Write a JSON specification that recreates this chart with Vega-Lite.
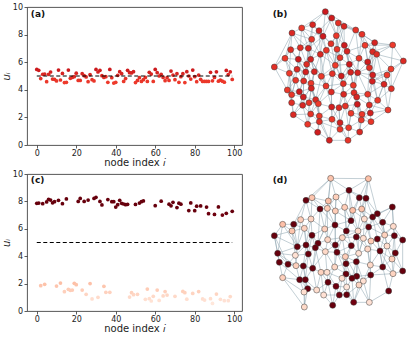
{
"$schema":"https://vega.github.io/schema/vega-lite/v6.json",
"padding":{"left":0,"top":2,"right":0,"bottom":0},
"background":"white",
"config":{"font":"DejaVu Sans","view":{"stroke":"#444","strokeWidth":0.9},
"axis":{"domain":false,"grid":false,"tickColor":"#333","tickSize":3,"tickWidth":0.8,"labelFont":"DejaVu Sans","labelFontSize":8,"labelColor":"#222","titleFont":"DejaVu Sans","titleFontSize":10,"titleFontWeight":"normal","titleColor":"#222","labelPadding":1.5,"labelOverlap":false}},
"datasets":{
"ua":[{"i":0,"u":5.48},{"i":1,"u":5.41},{"i":2,"u":4.81},{"i":3,"u":5.12},{"i":4,"u":5.14},{"i":5,"u":4.59},{"i":6,"u":5.12},{"i":7,"u":5.29},{"i":8,"u":4.78},{"i":9,"u":4.76},{"i":10,"u":4.64},{"i":11,"u":5.43},{"i":12,"u":4.71},{"i":13,"u":5.19},{"i":14,"u":4.52},{"i":15,"u":4.54},{"i":16,"u":5.43},{"i":17,"u":4.83},{"i":18,"u":4.9},{"i":19,"u":4.95},{"i":20,"u":5.2},{"i":21,"u":4.68},{"i":22,"u":4.68},{"i":23,"u":5.17},{"i":24,"u":5.02},{"i":25,"u":4.93},{"i":26,"u":4.59},{"i":27,"u":5.1},{"i":28,"u":4.73},{"i":29,"u":4.64},{"i":30,"u":5.48},{"i":31,"u":5.29},{"i":32,"u":5.41},{"i":33,"u":5.02},{"i":34,"u":4.9},{"i":35,"u":4.95},{"i":36,"u":4.54},{"i":37,"u":5.48},{"i":38,"u":4.88},{"i":39,"u":4.49},{"i":40,"u":4.54},{"i":41,"u":5.05},{"i":42,"u":5.31},{"i":43,"u":5.17},{"i":44,"u":4.61},{"i":45,"u":4.81},{"i":46,"u":5.41},{"i":47,"u":5.24},{"i":48,"u":5.22},{"i":49,"u":5.31},{"i":50,"u":4.52},{"i":51,"u":4.68},{"i":52,"u":4.88},{"i":53,"u":4.61},{"i":54,"u":4.73},{"i":55,"u":4.9},{"i":56,"u":4.61},{"i":57,"u":5.27},{"i":58,"u":5.14},{"i":59,"u":4.61},{"i":60,"u":5.48},{"i":61,"u":5.24},{"i":62,"u":5.0},{"i":63,"u":5.12},{"i":64,"u":4.9},{"i":65,"u":4.66},{"i":66,"u":4.88},{"i":67,"u":4.68},{"i":68,"u":5.36},{"i":69,"u":5.07},{"i":70,"u":4.73},{"i":71,"u":5.17},{"i":72,"u":4.54},{"i":73,"u":4.95},{"i":74,"u":5.17},{"i":75,"u":4.52},{"i":76,"u":5.31},{"i":77,"u":5.0},{"i":78,"u":4.78},{"i":79,"u":5.43},{"i":80,"u":4.95},{"i":81,"u":4.59},{"i":82,"u":5.07},{"i":83,"u":4.76},{"i":84,"u":4.61},{"i":85,"u":4.61},{"i":86,"u":4.61},{"i":87,"u":4.61},{"i":88,"u":5.27},{"i":89,"u":4.65},{"i":90,"u":4.9},{"i":91,"u":5.3},{"i":92,"u":4.62},{"i":93,"u":4.7},{"i":94,"u":4.62},{"i":95,"u":4.55},{"i":96,"u":5.4},{"i":97,"u":5.1},{"i":98,"u":5.3},{"i":99,"u":4.75}],
"uc":[{"i":0,"u":7.86},{"i":1,"u":7.88},{"i":2,"u":1.85},{"i":3,"u":7.83},{"i":4,"u":1.95},{"i":5,"u":7.96},{"i":6,"u":8.15},{"i":7,"u":8.1},{"i":8,"u":7.9},{"i":9,"u":7.98},{"i":10,"u":1.82},{"i":11,"u":8.08},{"i":12,"u":2.04},{"i":13,"u":7.83},{"i":14,"u":1.41},{"i":15,"u":8.18},{"i":16,"u":1.58},{"i":17,"u":1.51},{"i":18,"u":1.53},{"i":19,"u":2.02},{"i":20,"u":1.92},{"i":21,"u":8.0},{"i":22,"u":8.22},{"i":23,"u":1.53},{"i":24,"u":8.0},{"i":25,"u":1.22},{"i":26,"u":8.1},{"i":27,"u":2.0},{"i":28,"u":0.88},{"i":29,"u":8.22},{"i":30,"u":8.3},{"i":31,"u":1.0},{"i":32,"u":8.0},{"i":33,"u":7.74},{"i":34,"u":1.8},{"i":35,"u":1.36},{"i":36,"u":8.13},{"i":37,"u":1.36},{"i":38,"u":7.98},{"i":39,"u":7.98},{"i":40,"u":7.59},{"i":41,"u":7.76},{"i":42,"u":8.08},{"i":43,"u":7.86},{"i":44,"u":7.81},{"i":45,"u":7.76},{"i":46,"u":7.79},{"i":47,"u":1.02},{"i":48,"u":1.34},{"i":49,"u":1.19},{"i":50,"u":7.78},{"i":51,"u":1.22},{"i":52,"u":7.88},{"i":53,"u":7.98},{"i":54,"u":8.03},{"i":55,"u":0.85},{"i":56,"u":1.6},{"i":57,"u":0.9},{"i":58,"u":0.73},{"i":59,"u":1.07},{"i":60,"u":7.69},{"i":61,"u":1.53},{"i":62,"u":0.77},{"i":63,"u":8.02},{"i":64,"u":1.1},{"i":65,"u":1.42},{"i":66,"u":1.16},{"i":67,"u":7.8},{"i":68,"u":7.68},{"i":69,"u":7.93},{"i":70,"u":1.07},{"i":71,"u":7.55},{"i":72,"u":7.87},{"i":73,"u":7.8},{"i":74,"u":1.43},{"i":75,"u":1.34},{"i":76,"u":0.86},{"i":77,"u":7.33},{"i":78,"u":7.89},{"i":79,"u":1.28},{"i":80,"u":7.32},{"i":81,"u":7.65},{"i":82,"u":1.42},{"i":83,"u":7.67},{"i":84,"u":0.88},{"i":85,"u":0.8},{"i":86,"u":7.59},{"i":87,"u":7.1},{"i":88,"u":0.9},{"i":89,"u":0.55},{"i":90,"u":7.05},{"i":91,"u":1.24},{"i":92,"u":7.6},{"i":93,"u":0.85},{"i":94,"u":7.0},{"i":95,"u":0.75},{"i":96,"u":7.13},{"i":97,"u":0.75},{"i":98,"u":1.05},{"i":99,"u":7.28}],
"nb":[{"k":0,"x":208,"y":32},{"k":1,"x":227,"y":51},{"k":2,"x":247,"y":66},{"k":3,"x":264,"y":76},{"k":4,"x":170,"y":71},{"k":5,"x":137,"y":81},{"k":6,"x":108,"y":96},{"k":7,"x":189,"y":89},{"k":8,"x":299,"y":87},{"k":9,"x":318,"y":100},{"k":10,"x":241,"y":104},{"k":11,"x":201,"y":106},{"k":12,"x":167,"y":115},{"k":13,"x":356,"y":125},{"k":14,"x":410,"y":132},{"k":15,"x":327,"y":133},{"k":16,"x":265,"y":133},{"k":17,"x":225,"y":128},{"k":18,"x":133,"y":140},{"k":19,"x":104,"y":146},{"k":20,"x":157,"y":142},{"k":21,"x":211,"y":148},{"k":22,"x":243,"y":145},{"k":23,"x":273,"y":151},{"k":24,"x":350,"y":152},{"k":25,"x":362,"y":160},{"k":26,"x":87,"y":172},{"k":27,"x":193,"y":160},{"k":28,"x":252,"y":170},{"k":29,"x":309,"y":172},{"k":30,"x":127,"y":175},{"k":31,"x":164,"y":175},{"k":32,"x":335,"y":183},{"k":33,"x":442,"y":180},{"k":34,"x":55,"y":198},{"k":35,"x":152,"y":190},{"k":36,"x":238,"y":193},{"k":37,"x":280,"y":190},{"k":38,"x":340,"y":200},{"k":39,"x":405,"y":204},{"k":40,"x":100,"y":217},{"k":41,"x":123,"y":205},{"k":42,"x":149,"y":213},{"k":43,"x":175,"y":212},{"k":44,"x":196,"y":226},{"k":45,"x":229,"y":218},{"k":46,"x":256,"y":225},{"k":47,"x":284,"y":214},{"k":48,"x":305,"y":215},{"k":49,"x":350,"y":222},{"k":50,"x":393,"y":222},{"k":51,"x":119,"y":238},{"k":52,"x":143,"y":240},{"k":53,"x":165,"y":247},{"k":54,"x":210,"y":255},{"k":55,"x":262,"y":248},{"k":56,"x":292,"y":253},{"k":57,"x":349,"y":241},{"k":58,"x":384,"y":250},{"k":59,"x":94,"y":267},{"k":60,"x":130,"y":272},{"k":61,"x":166,"y":262},{"k":62,"x":226,"y":273},{"k":63,"x":263,"y":280},{"k":64,"x":294,"y":275},{"k":65,"x":335,"y":280},{"k":66,"x":406,"y":263},{"k":67,"x":107,"y":281},{"k":68,"x":142,"y":288},{"k":69,"x":179,"y":296},{"k":70,"x":159,"y":305},{"k":71,"x":302,"y":288},{"k":72,"x":365,"y":298},{"k":73,"x":107,"y":305},{"k":74,"x":140,"y":313},{"k":75,"x":187,"y":308},{"k":76,"x":227,"y":318},{"k":77,"x":249,"y":320},{"k":78,"x":268,"y":315},{"k":79,"x":304,"y":310},{"k":80,"x":340,"y":312},{"k":81,"x":396,"y":327},{"k":82,"x":112,"y":341},{"k":83,"x":164,"y":339},{"k":84,"x":190,"y":345},{"k":85,"x":228,"y":355},{"k":86,"x":285,"y":337},{"k":87,"x":318,"y":340},{"k":88,"x":343,"y":336},{"k":89,"x":155,"y":370},{"k":90,"x":190,"y":362},{"k":91,"x":252,"y":365},{"k":92,"x":316,"y":357},{"k":93,"x":345,"y":362},{"k":94,"x":252,"y":385},{"k":95,"x":278,"y":380},{"k":96,"x":185,"y":394},{"k":97,"x":311,"y":393},{"k":98,"x":220,"y":418},{"k":99,"x":276,"y":418}],
"nd":[{"k":0,"id":2,"x":224,"y":40},{"k":1,"id":4,"x":337,"y":41},{"k":2,"id":0,"x":279,"y":76},{"k":3,"id":1,"x":150,"y":106},{"k":4,"id":10,"x":168,"y":98},{"k":5,"id":12,"x":217,"y":108},{"k":6,"id":14,"x":240,"y":96},{"k":7,"id":3,"x":310,"y":98},{"k":8,"id":5,"x":330,"y":100},{"k":9,"id":6,"x":409,"y":126},{"k":10,"id":7,"x":192,"y":132},{"k":11,"id":16,"x":214,"y":130},{"k":12,"id":17,"x":238,"y":138},{"k":13,"id":18,"x":266,"y":127},{"k":14,"id":19,"x":290,"y":136},{"k":15,"id":20,"x":317,"y":132},{"k":16,"id":8,"x":364,"y":146},{"k":17,"id":9,"x":350,"y":156},{"k":18,"id":23,"x":134,"y":164},{"k":19,"id":25,"x":165,"y":162},{"k":20,"id":11,"x":113,"y":178},{"k":21,"id":27,"x":80,"y":178},{"k":22,"id":13,"x":285,"y":167},{"k":23,"id":28,"x":325,"y":162},{"k":24,"id":15,"x":380,"y":172},{"k":25,"id":31,"x":412,"y":184},{"k":26,"id":21,"x":237,"y":180},{"k":27,"id":22,"x":338,"y":186},{"k":28,"id":34,"x":108,"y":198},{"k":29,"id":35,"x":145,"y":190},{"k":30,"id":37,"x":206,"y":192},{"k":31,"id":24,"x":271,"y":198},{"k":32,"id":47,"x":306,"y":198},{"k":33,"id":26,"x":55,"y":212},{"k":34,"id":29,"x":168,"y":211},{"k":35,"id":48,"x":386,"y":210},{"k":36,"id":30,"x":415,"y":212},{"k":37,"id":32,"x":440,"y":225},{"k":38,"id":33,"x":186,"y":235},{"k":39,"id":36,"x":124,"y":245},{"k":40,"id":49,"x":215,"y":224},{"k":41,"id":38,"x":238,"y":240},{"k":42,"id":51,"x":259,"y":218},{"k":43,"id":39,"x":301,"y":216},{"k":44,"id":55,"x":322,"y":220},{"k":45,"id":56,"x":345,"y":228},{"k":46,"id":40,"x":364,"y":222},{"k":47,"id":41,"x":150,"y":240},{"k":48,"id":42,"x":286,"y":242},{"k":49,"id":57,"x":393,"y":243},{"k":50,"id":43,"x":65,"y":265},{"k":51,"id":58,"x":118,"y":271},{"k":52,"id":44,"x":157,"y":267},{"k":53,"id":45,"x":178,"y":248},{"k":54,"id":59,"x":208,"y":260},{"k":55,"id":46,"x":243,"y":262},{"k":56,"id":61,"x":268,"y":275},{"k":57,"id":62,"x":308,"y":265},{"k":58,"id":64,"x":335,"y":252},{"k":59,"id":50,"x":372,"y":258},{"k":60,"id":52,"x":418,"y":264},{"k":61,"id":53,"x":70,"y":292},{"k":62,"id":54,"x":96,"y":298},{"k":63,"id":65,"x":120,"y":302},{"k":64,"id":60,"x":142,"y":303},{"k":65,"id":63,"x":170,"y":310},{"k":66,"id":66,"x":236,"y":306},{"k":67,"id":67,"x":270,"y":296},{"k":68,"id":68,"x":301,"y":290},{"k":69,"id":70,"x":343,"y":300},{"k":70,"id":69,"x":380,"y":306},{"k":71,"id":74,"x":408,"y":282},{"k":72,"id":71,"x":440,"y":318},{"k":73,"id":75,"x":195,"y":322},{"k":74,"id":76,"x":213,"y":322},{"k":75,"id":72,"x":270,"y":327},{"k":76,"id":73,"x":302,"y":334},{"k":77,"id":77,"x":344,"y":330},{"k":78,"id":79,"x":411,"y":326},{"k":79,"id":82,"x":80,"y":338},{"k":80,"id":78,"x":131,"y":344},{"k":81,"id":80,"x":148,"y":344},{"k":82,"id":81,"x":216,"y":352},{"k":83,"id":84,"x":258,"y":340},{"k":84,"id":83,"x":288,"y":340},{"k":85,"id":85,"x":322,"y":348},{"k":86,"id":86,"x":155,"y":371},{"k":87,"id":88,"x":182,"y":375},{"k":88,"id":87,"x":240,"y":364},{"k":89,"id":89,"x":272,"y":366},{"k":90,"id":91,"x":309,"y":360},{"k":91,"id":93,"x":144,"y":381},{"k":92,"id":95,"x":203,"y":390},{"k":93,"id":90,"x":250,"y":390},{"k":94,"id":92,"x":272,"y":389},{"k":95,"id":94,"x":293,"y":412},{"k":96,"id":97,"x":340,"y":412},{"k":97,"id":96,"x":398,"y":378},{"k":98,"id":99,"x":230,"y":421},{"k":99,"id":98,"x":145,"y":426}],
"eb":[{"s":0,"t":1},{"s":0,"t":4},{"s":0,"t":8},{"s":0,"t":5},{"s":0,"t":11},{"s":1,"t":2},{"s":1,"t":7},{"s":1,"t":10},{"s":1,"t":3},{"s":2,"t":3},{"s":2,"t":8},{"s":2,"t":10},{"s":2,"t":16},{"s":3,"t":8},{"s":3,"t":9},{"s":3,"t":22},{"s":3,"t":16},{"s":4,"t":5},{"s":4,"t":7},{"s":4,"t":12},{"s":4,"t":20},{"s":5,"t":6},{"s":5,"t":12},{"s":5,"t":18},{"s":5,"t":11},{"s":6,"t":19},{"s":6,"t":18},{"s":6,"t":26},{"s":6,"t":12},{"s":7,"t":11},{"s":7,"t":17},{"s":7,"t":12},{"s":7,"t":27},{"s":8,"t":9},{"s":8,"t":13},{"s":8,"t":15},{"s":8,"t":23},{"s":9,"t":13},{"s":9,"t":15},{"s":9,"t":24},{"s":9,"t":29},{"s":10,"t":17},{"s":10,"t":22},{"s":10,"t":16},{"s":10,"t":28},{"s":11,"t":17},{"s":11,"t":21},{"s":11,"t":27},{"s":11,"t":20},{"s":12,"t":20},{"s":12,"t":18},{"s":12,"t":31},{"s":12,"t":35},{"s":13,"t":14},{"s":13,"t":24},{"s":13,"t":25},{"s":13,"t":15},{"s":14,"t":25},{"s":14,"t":33},{"s":14,"t":39},{"s":14,"t":24},{"s":15,"t":24},{"s":15,"t":29},{"s":15,"t":32},{"s":15,"t":23},{"s":16,"t":22},{"s":16,"t":23},{"s":16,"t":28},{"s":16,"t":37},{"s":17,"t":21},{"s":17,"t":22},{"s":17,"t":36},{"s":18,"t":19},{"s":18,"t":30},{"s":18,"t":20},{"s":18,"t":41},{"s":19,"t":26},{"s":19,"t":30},{"s":19,"t":40},{"s":20,"t":31},{"s":20,"t":35},{"s":20,"t":27},{"s":20,"t":42},{"s":21,"t":27},{"s":21,"t":28},{"s":21,"t":36},{"s":21,"t":44},{"s":22,"t":28},{"s":22,"t":36},{"s":22,"t":45},{"s":23,"t":37},{"s":23,"t":29},{"s":23,"t":28},{"s":23,"t":47},{"s":24,"t":25},{"s":24,"t":32},{"s":24,"t":38},{"s":25,"t":32},{"s":25,"t":39},{"s":25,"t":38},{"s":25,"t":49},{"s":26,"t":34},{"s":26,"t":30},{"s":26,"t":40},{"s":26,"t":41},{"s":27,"t":31},{"s":27,"t":36},{"s":27,"t":43},{"s":27,"t":44},{"s":28,"t":36},{"s":28,"t":37},{"s":28,"t":46},{"s":29,"t":32},{"s":29,"t":37},{"s":29,"t":48},{"s":29,"t":38},{"s":30,"t":35},{"s":30,"t":41},{"s":30,"t":42},{"s":31,"t":35},{"s":31,"t":43},{"s":31,"t":42},{"s":31,"t":44},{"s":32,"t":38},{"s":32,"t":48},{"s":32,"t":49},{"s":33,"t":39},{"s":33,"t":50},{"s":33,"t":25},{"s":34,"t":40},{"s":34,"t":59},{"s":34,"t":19},{"s":34,"t":6},{"s":35,"t":42},{"s":35,"t":43},{"s":35,"t":52},{"s":36,"t":45},{"s":36,"t":46},{"s":36,"t":44},{"s":36,"t":37},{"s":37,"t":47},{"s":37,"t":46},{"s":37,"t":48},{"s":38,"t":49},{"s":38,"t":57},{"s":38,"t":48},{"s":39,"t":50},{"s":39,"t":58},{"s":39,"t":66},{"s":39,"t":49},{"s":40,"t":41},{"s":40,"t":51},{"s":40,"t":59},{"s":40,"t":67},{"s":41,"t":42},{"s":41,"t":51},{"s":41,"t":52},{"s":42,"t":52},{"s":42,"t":53},{"s":42,"t":43},{"s":43,"t":44},{"s":43,"t":53},{"s":43,"t":61},{"s":43,"t":54},{"s":44,"t":45},{"s":44,"t":54},{"s":44,"t":62},{"s":45,"t":46},{"s":45,"t":54},{"s":45,"t":55},{"s":46,"t":55},{"s":46,"t":47},{"s":46,"t":63},{"s":47,"t":48},{"s":47,"t":56},{"s":47,"t":55},{"s":48,"t":56},{"s":48,"t":57},{"s":48,"t":49},{"s":48,"t":64},{"s":49,"t":57},{"s":49,"t":58},{"s":49,"t":50},{"s":50,"t":58},{"s":50,"t":66},{"s":50,"t":57},{"s":51,"t":52},{"s":51,"t":59},{"s":51,"t":60},{"s":51,"t":67},{"s":52,"t":53},{"s":52,"t":60},{"s":52,"t":61},{"s":52,"t":68},{"s":53,"t":61},{"s":53,"t":69},{"s":53,"t":54},{"s":54,"t":62},{"s":54,"t":69},{"s":54,"t":55},{"s":54,"t":75},{"s":55,"t":63},{"s":55,"t":56},{"s":55,"t":62},{"s":56,"t":64},{"s":56,"t":63},{"s":56,"t":71},{"s":57,"t":65},{"s":57,"t":58},{"s":57,"t":72},{"s":58,"t":66},{"s":58,"t":72},{"s":58,"t":65},{"s":59,"t":67},{"s":59,"t":60},{"s":59,"t":73},{"s":60,"t":68},{"s":60,"t":67},{"s":60,"t":61},{"s":61,"t":69},{"s":61,"t":68},{"s":61,"t":70},{"s":62,"t":76},{"s":62,"t":63},{"s":62,"t":75},{"s":63,"t":77},{"s":63,"t":78},{"s":63,"t":64},{"s":64,"t":71},{"s":64,"t":78},{"s":64,"t":65},{"s":65,"t":72},{"s":65,"t":80},{"s":65,"t":71},{"s":66,"t":72},{"s":66,"t":81},{"s":67,"t":73},{"s":67,"t":68},{"s":67,"t":82},{"s":68,"t":70},{"s":68,"t":74},{"s":68,"t":69},{"s":69,"t":75},{"s":69,"t":70},{"s":69,"t":84},{"s":70,"t":74},{"s":70,"t":83},{"s":70,"t":75},{"s":71,"t":79},{"s":71,"t":80},{"s":71,"t":86},{"s":72,"t":80},{"s":72,"t":81},{"s":72,"t":88},{"s":73,"t":74},{"s":73,"t":82},{"s":74,"t":83},{"s":74,"t":82},{"s":74,"t":89},{"s":75,"t":84},{"s":75,"t":76},{"s":75,"t":83},{"s":76,"t":85},{"s":76,"t":77},{"s":76,"t":84},{"s":77,"t":78},{"s":77,"t":91},{"s":77,"t":85},{"s":78,"t":86},{"s":78,"t":79},{"s":78,"t":91},{"s":79,"t":87},{"s":79,"t":86},{"s":79,"t":92},{"s":80,"t":88},{"s":80,"t":87},{"s":80,"t":81},{"s":81,"t":88},{"s":81,"t":93},{"s":82,"t":89},{"s":82,"t":83},{"s":83,"t":89},{"s":83,"t":84},{"s":83,"t":90},{"s":84,"t":90},{"s":84,"t":85},{"s":84,"t":96},{"s":85,"t":91},{"s":85,"t":94},{"s":85,"t":90},{"s":85,"t":98},{"s":86,"t":92},{"s":86,"t":95},{"s":86,"t":87},{"s":87,"t":92},{"s":87,"t":88},{"s":87,"t":97},{"s":88,"t":93},{"s":88,"t":92},{"s":89,"t":96},{"s":89,"t":90},{"s":90,"t":96},{"s":90,"t":98},{"s":90,"t":94},{"s":91,"t":94},{"s":91,"t":95},{"s":91,"t":99},{"s":92,"t":93},{"s":92,"t":97},{"s":92,"t":95},{"s":93,"t":97},{"s":94,"t":98},{"s":94,"t":99},{"s":94,"t":95},{"s":95,"t":99},{"s":95,"t":97},{"s":96,"t":98},{"s":97,"t":99},{"s":98,"t":99},{"s":0,"t":10},{"s":4,"t":11},{"s":6,"t":20},{"s":12,"t":27},{"s":7,"t":21},{"s":10,"t":36},{"s":19,"t":42},{"s":26,"t":51},{"s":30,"t":52},{"s":35,"t":53},{"s":27,"t":54},{"s":21,"t":45},{"s":22,"t":46},{"s":16,"t":47},{"s":23,"t":48},{"s":15,"t":38},{"s":13,"t":32},{"s":24,"t":49},{"s":29,"t":56},{"s":37,"t":55},{"s":36,"t":62},{"s":44,"t":69},{"s":43,"t":70},{"s":42,"t":60},{"s":41,"t":59},{"s":40,"t":73},{"s":53,"t":74},{"s":61,"t":75},{"s":54,"t":76},{"s":45,"t":62},{"s":46,"t":63},{"s":55,"t":77},{"s":47,"t":64},{"s":48,"t":65},{"s":57,"t":80},{"s":49,"t":72},{"s":58,"t":81},{"s":64,"t":79},{"s":63,"t":86},{"s":71,"t":87},{"s":62,"t":85},{"s":69,"t":83},{"s":68,"t":82},{"s":70,"t":89},{"s":75,"t":90},{"s":76,"t":91},{"s":77,"t":94},{"s":78,"t":95},{"s":79,"t":97},{"s":80,"t":92},{"s":65,"t":88},{"s":56,"t":71},{"s":3,"t":17},{"s":2,"t":22},{"s":8,"t":29},{"s":11,"t":31},{"s":20,"t":43},{"s":18,"t":35},{"s":31,"t":44},{"s":28,"t":45},{"s":36,"t":55},{"s":37,"t":56},{"s":32,"t":57},{"s":38,"t":65},{"s":50,"t":72},{"s":39,"t":57},{"s":52,"t":68},{"s":51,"t":67},{"s":60,"t":74},{"s":61,"t":84},{"s":84,"t":98},{"s":86,"t":95},{"s":87,"t":93},{"s":1,"t":11},{"s":5,"t":20},{"s":14,"t":15},{"s":25,"t":58},{"s":33,"t":66}],
"ed":[{"s":0,"t":2},{"s":0,"t":5},{"s":0,"t":6},{"s":0,"t":1},{"s":0,"t":3},{"s":1,"t":2},{"s":1,"t":8},{"s":1,"t":7},{"s":1,"t":16},{"s":2,"t":6},{"s":2,"t":7},{"s":2,"t":13},{"s":2,"t":14},{"s":3,"t":4},{"s":3,"t":18},{"s":3,"t":10},{"s":3,"t":20},{"s":4,"t":5},{"s":4,"t":10},{"s":4,"t":19},{"s":5,"t":6},{"s":5,"t":11},{"s":5,"t":10},{"s":6,"t":12},{"s":6,"t":13},{"s":6,"t":11},{"s":7,"t":8},{"s":7,"t":14},{"s":7,"t":15},{"s":8,"t":15},{"s":8,"t":16},{"s":8,"t":17},{"s":9,"t":16},{"s":9,"t":24},{"s":9,"t":25},{"s":9,"t":36},{"s":10,"t":11},{"s":10,"t":19},{"s":10,"t":26},{"s":10,"t":30},{"s":11,"t":12},{"s":11,"t":26},{"s":11,"t":30},{"s":12,"t":13},{"s":12,"t":26},{"s":12,"t":22},{"s":13,"t":14},{"s":13,"t":22},{"s":13,"t":31},{"s":14,"t":15},{"s":14,"t":22},{"s":14,"t":23},{"s":15,"t":23},{"s":15,"t":17},{"s":15,"t":27},{"s":16,"t":17},{"s":16,"t":24},{"s":16,"t":27},{"s":17,"t":23},{"s":17,"t":27},{"s":17,"t":35},{"s":18,"t":19},{"s":18,"t":20},{"s":18,"t":29},{"s":18,"t":28},{"s":19,"t":29},{"s":19,"t":30},{"s":19,"t":34},{"s":20,"t":21},{"s":20,"t":28},{"s":20,"t":29},{"s":21,"t":28},{"s":21,"t":33},{"s":21,"t":39},{"s":22,"t":31},{"s":22,"t":26},{"s":22,"t":32},{"s":23,"t":27},{"s":23,"t":32},{"s":23,"t":44},{"s":24,"t":25},{"s":24,"t":35},{"s":24,"t":27},{"s":25,"t":36},{"s":25,"t":37},{"s":25,"t":35},{"s":26,"t":31},{"s":26,"t":30},{"s":26,"t":41},{"s":27,"t":35},{"s":27,"t":45},{"s":27,"t":32},{"s":28,"t":33},{"s":28,"t":39},{"s":28,"t":29},{"s":29,"t":34},{"s":29,"t":39},{"s":29,"t":47},{"s":30,"t":34},{"s":30,"t":38},{"s":30,"t":40},{"s":31,"t":42},{"s":31,"t":32},{"s":31,"t":41},{"s":32,"t":43},{"s":32,"t":44},{"s":32,"t":42},{"s":33,"t":50},{"s":33,"t":39},{"s":33,"t":61},{"s":34,"t":38},{"s":34,"t":47},{"s":34,"t":53},{"s":35,"t":36},{"s":35,"t":46},{"s":35,"t":49},{"s":36,"t":37},{"s":36,"t":49},{"s":36,"t":60},{"s":37,"t":60},{"s":37,"t":72},{"s":38,"t":40},{"s":38,"t":53},{"s":38,"t":54},{"s":39,"t":47},{"s":39,"t":51},{"s":39,"t":50},{"s":40,"t":41},{"s":40,"t":54},{"s":40,"t":42},{"s":41,"t":42},{"s":41,"t":55},{"s":41,"t":54},{"s":42,"t":48},{"s":42,"t":55},{"s":42,"t":43},{"s":43,"t":44},{"s":43,"t":48},{"s":43,"t":57},{"s":44,"t":45},{"s":44,"t":57},{"s":44,"t":58},{"s":45,"t":46},{"s":45,"t":58},{"s":45,"t":59},{"s":46,"t":49},{"s":46,"t":59},{"s":47,"t":52},{"s":47,"t":51},{"s":47,"t":53},{"s":48,"t":57},{"s":48,"t":56},{"s":48,"t":55},{"s":49,"t":60},{"s":49,"t":59},{"s":49,"t":71},{"s":50,"t":51},{"s":50,"t":61},{"s":50,"t":62},{"s":51,"t":62},{"s":51,"t":63},{"s":51,"t":52},{"s":52,"t":53},{"s":52,"t":64},{"s":52,"t":65},{"s":53,"t":54},{"s":53,"t":65},{"s":54,"t":55},{"s":54,"t":66},{"s":54,"t":65},{"s":55,"t":56},{"s":55,"t":66},{"s":55,"t":67},{"s":56,"t":67},{"s":56,"t":57},{"s":56,"t":68},{"s":57,"t":58},{"s":57,"t":68},{"s":58,"t":59},{"s":58,"t":69},{"s":59,"t":70},{"s":59,"t":71},{"s":59,"t":69},{"s":60,"t":71},{"s":60,"t":72},{"s":61,"t":62},{"s":61,"t":79},{"s":62,"t":63},{"s":62,"t":79},{"s":63,"t":64},{"s":63,"t":80},{"s":64,"t":65},{"s":64,"t":81},{"s":64,"t":80},{"s":65,"t":73},{"s":65,"t":81},{"s":66,"t":74},{"s":66,"t":67},{"s":66,"t":75},{"s":67,"t":68},{"s":67,"t":75},{"s":67,"t":83},{"s":68,"t":76},{"s":68,"t":69},{"s":68,"t":84},{"s":69,"t":77},{"s":69,"t":70},{"s":70,"t":71},{"s":70,"t":77},{"s":70,"t":78},{"s":71,"t":72},{"s":71,"t":78},{"s":72,"t":78},{"s":73,"t":74},{"s":73,"t":82},{"s":73,"t":87},{"s":74,"t":82},{"s":74,"t":83},{"s":75,"t":83},{"s":75,"t":84},{"s":75,"t":76},{"s":76,"t":84},{"s":76,"t":85},{"s":76,"t":77},{"s":77,"t":85},{"s":77,"t":78},{"s":78,"t":97},{"s":79,"t":80},{"s":79,"t":91},{"s":80,"t":81},{"s":80,"t":91},{"s":81,"t":86},{"s":81,"t":87},{"s":82,"t":87},{"s":82,"t":88},{"s":82,"t":92},{"s":83,"t":88},{"s":83,"t":89},{"s":84,"t":89},{"s":84,"t":90},{"s":85,"t":90},{"s":85,"t":96},{"s":86,"t":91},{"s":86,"t":87},{"s":86,"t":99},{"s":87,"t":92},{"s":88,"t":93},{"s":88,"t":89},{"s":89,"t":94},{"s":89,"t":93},{"s":90,"t":94},{"s":90,"t":95},{"s":90,"t":96},{"s":91,"t":99},{"s":92,"t":98},{"s":92,"t":93},{"s":93,"t":98},{"s":93,"t":94},{"s":94,"t":95},{"s":95,"t":96},{"s":96,"t":97},{"s":0,"t":11},{"s":1,"t":15},{"s":2,"t":22},{"s":3,"t":19},{"s":4,"t":11},{"s":5,"t":12},{"s":6,"t":26},{"s":7,"t":22},{"s":8,"t":23},{"s":9,"t":17},{"s":10,"t":38},{"s":11,"t":40},{"s":12,"t":41},{"s":13,"t":31},{"s":14,"t":32},{"s":15,"t":43},{"s":16,"t":35},{"s":17,"t":46},{"s":18,"t":39},{"s":19,"t":47},{"s":20,"t":39},{"s":21,"t":50},{"s":22,"t":42},{"s":23,"t":45},{"s":24,"t":49},{"s":25,"t":46},{"s":26,"t":40},{"s":27,"t":44},{"s":28,"t":51},{"s":29,"t":52},{"s":30,"t":53},{"s":31,"t":48},{"s":32,"t":57},{"s":33,"t":62},{"s":34,"t":52},{"s":35,"t":59},{"s":36,"t":71},{"s":38,"t":65},{"s":39,"t":63},{"s":40,"t":55},{"s":41,"t":66},{"s":42,"t":56},{"s":43,"t":58},{"s":44,"t":68},{"s":45,"t":69},{"s":46,"t":70},{"s":47,"t":64},{"s":48,"t":67},{"s":49,"t":70},{"s":50,"t":63},{"s":52,"t":81},{"s":53,"t":73},{"s":54,"t":74},{"s":55,"t":75},{"s":56,"t":76},{"s":57,"t":76},{"s":58,"t":77},{"s":59,"t":78},{"s":60,"t":78},{"s":61,"t":80},{"s":62,"t":64},{"s":64,"t":86},{"s":65,"t":87},{"s":66,"t":82},{"s":67,"t":84},{"s":68,"t":85},{"s":69,"t":85},{"s":70,"t":97},{"s":73,"t":92},{"s":74,"t":88},{"s":75,"t":89},{"s":76,"t":90},{"s":77,"t":96},{"s":79,"t":99},{"s":80,"t":86},{"s":81,"t":99},{"s":82,"t":98},{"s":83,"t":93},{"s":84,"t":95},{"s":85,"t":95},{"s":88,"t":98},{"s":89,"t":95},{"s":2,"t":8},{"s":0,"t":4}]
},
"spacing":1,
"resolve":{"scale":{"x":"independent","y":"independent","color":"independent"}},
"vconcat":[
{"hconcat":[
{"width":215,"height":138,
"layer":[
{"data":{"name":"ua"},"mark":{"type":"circle","size":14,"opacity":1},
"encoding":{"x":{"field":"i","type":"quantitative","scale":{"domain":[-4.95,103.95],"nice":false,"zero":false},"axis":{"values":[0,20,40,60,80,100],"title":"node index 𝑖","titlePadding":0}},
"y":{"field":"u","type":"quantitative","scale":{"domain":[0,10],"nice":false},"axis":{"values":[0,2,4,6,8,10],"title":"uᵢ","titleFontStyle":"italic","titlePadding":1}},
"color":{"field":"u","type":"quantitative","scale":{"type":"linear","domain":[0,2.2,4.5,5.5,7.2],"range":["#fff5f0","#fcbba1","#ef3b2c","#cb181d","#67000d"],"clamp":true},"legend":null}}},
{"data":{"values":[{}]},"mark":{"type":"rule","strokeDash":[4,2.5],"color":"black","strokeWidth":1},"encoding":{"x":{"datum":0,"axis":{"values":[0,20,40,60,80,100],"title":"node index 𝑖","titlePadding":0}},"x2":{"datum":99},"y":{"datum":5,"axis":{"values":[0,2,4,6,8,10],"title":"uᵢ","titleFontStyle":"italic","titlePadding":1}}}},
{"data":{"values":[{}]},"mark":{"type":"text","text":"(a)","fontWeight":"bold","fontSize":9,"align":"left","baseline":"middle","color":"#111"},"encoding":{"x":{"datum":-3,"axis":{"values":[0,20,40,60,80,100],"title":"node index 𝑖","titlePadding":0}},"y":{"datum":9.5,"axis":{"values":[0,2,4,6,8,10],"title":"uᵢ","titleFontStyle":"italic","titlePadding":1}}}}
]},
{"width":160,"height":138,"view":{"stroke":null},
"layer":[
{"data":{"name":"eb"},"transform":[{"lookup":"s","from":{"data":{"name":"nb"},"key":"k","fields":["x","y"]},"as":["xa","ya"]},{"lookup":"t","from":{"data":{"name":"nb"},"key":"k","fields":["x","y"]},"as":["xb","yb"]}],
"mark":{"type":"rule","color":"#8ba2ad","strokeWidth":0.65,"opacity":0.8},
"encoding":{"x":{"field":"xa","type":"quantitative","scale":{"domain":[0,480],"nice":false,"zero":false},"axis":null},"y":{"field":"ya","type":"quantitative","scale":{"domain":[18,432],"reverse":true,"nice":false,"zero":false},"axis":null},"x2":{"field":"xb"},"y2":{"field":"yb"}}},
{"data":{"name":"nb"},"transform":[{"lookup":"k","from":{"data":{"name":"ua"},"key":"i","fields":["u"]}}],
"mark":{"type":"circle","size":36,"stroke":"#3a3a3a","strokeWidth":0.5,"opacity":1},
"encoding":{"x":{"field":"x","type":"quantitative"},"y":{"field":"y","type":"quantitative"},"color":{"field":"u","type":"quantitative","scale":{"type":"linear","domain":[0,2.2,4.5,5.5,7.2],"range":["#fff5f0","#fcbba1","#ef3b2c","#cb181d","#67000d"],"clamp":true},"legend":null}}},
{"data":{"values":[{}]},"mark":{"type":"text","text":"(b)","fontWeight":"bold","fontSize":9,"align":"left","baseline":"middle","color":"#111"},"encoding":{"x":{"datum":50},"y":{"datum":38}}}
]}
],"spacing":13,"resolve":{"scale":{"x":"independent","y":"independent","color":"independent"}}},
{"hconcat":[
{"width":215,"height":137,
"layer":[
{"data":{"name":"uc"},"mark":{"type":"circle","size":14,"opacity":1},
"encoding":{"x":{"field":"i","type":"quantitative","scale":{"domain":[-4.95,103.95],"nice":false,"zero":false},"axis":{"values":[0,20,40,60,80,100],"title":"node index 𝑖","titlePadding":0}},
"y":{"field":"u","type":"quantitative","scale":{"domain":[0,10],"nice":false},"axis":{"values":[0,2,4,6,8,10],"title":"uᵢ","titleFontStyle":"italic","titlePadding":1}},
"color":{"field":"u","type":"quantitative","scale":{"type":"linear","domain":[0,2.2,4.5,5.5,7.2],"range":["#fff5f0","#fcbba1","#ef3b2c","#cb181d","#67000d"],"clamp":true},"legend":null}}},
{"data":{"values":[{}]},"mark":{"type":"rule","strokeDash":[4,2.5],"color":"black","strokeWidth":1},"encoding":{"x":{"datum":0,"axis":{"values":[0,20,40,60,80,100],"title":"node index 𝑖","titlePadding":0}},"x2":{"datum":99},"y":{"datum":5,"axis":{"values":[0,2,4,6,8,10],"title":"uᵢ","titleFontStyle":"italic","titlePadding":1}}}},
{"data":{"values":[{}]},"mark":{"type":"text","text":"(c)","fontWeight":"bold","fontSize":9,"align":"left","baseline":"middle","color":"#111"},"encoding":{"x":{"datum":-3,"axis":{"values":[0,20,40,60,80,100],"title":"node index 𝑖","titlePadding":0}},"y":{"datum":9.55,"axis":{"values":[0,2,4,6,8,10],"title":"uᵢ","titleFontStyle":"italic","titlePadding":1}}}}
]},
{"width":160,"height":137,"view":{"stroke":null},
"layer":[
{"data":{"name":"ed"},"transform":[{"lookup":"s","from":{"data":{"name":"nd"},"key":"k","fields":["x","y"]},"as":["xa","ya"]},{"lookup":"t","from":{"data":{"name":"nd"},"key":"k","fields":["x","y"]},"as":["xb","yb"]}],
"mark":{"type":"rule","color":"#8ba2ad","strokeWidth":0.65,"opacity":0.8},
"encoding":{"x":{"field":"xa","type":"quantitative","scale":{"domain":[0,480],"nice":false,"zero":false},"axis":null},"y":{"field":"ya","type":"quantitative","scale":{"domain":[27,438],"reverse":true,"nice":false,"zero":false},"axis":null},"x2":{"field":"xb"},"y2":{"field":"yb"}}},
{"data":{"name":"nd"},"transform":[{"lookup":"id","from":{"data":{"name":"uc"},"key":"i","fields":["u"]}}],
"mark":{"type":"circle","size":36,"stroke":"#3a3a3a","strokeWidth":0.5,"opacity":1},
"encoding":{"x":{"field":"x","type":"quantitative"},"y":{"field":"y","type":"quantitative"},"color":{"field":"u","type":"quantitative","scale":{"type":"linear","domain":[0,2.2,4.5,5.5,7.2],"range":["#fff5f0","#fcbba1","#ef3b2c","#cb181d","#67000d"],"clamp":true},"legend":null}}},
{"data":{"values":[{}]},"mark":{"type":"text","text":"(d)","fontWeight":"bold","fontSize":9,"align":"left","baseline":"middle","color":"#111"},"encoding":{"x":{"datum":50},"y":{"datum":46}}}
]}
],"spacing":13,"resolve":{"scale":{"x":"independent","y":"independent","color":"independent"}}}
]
}
